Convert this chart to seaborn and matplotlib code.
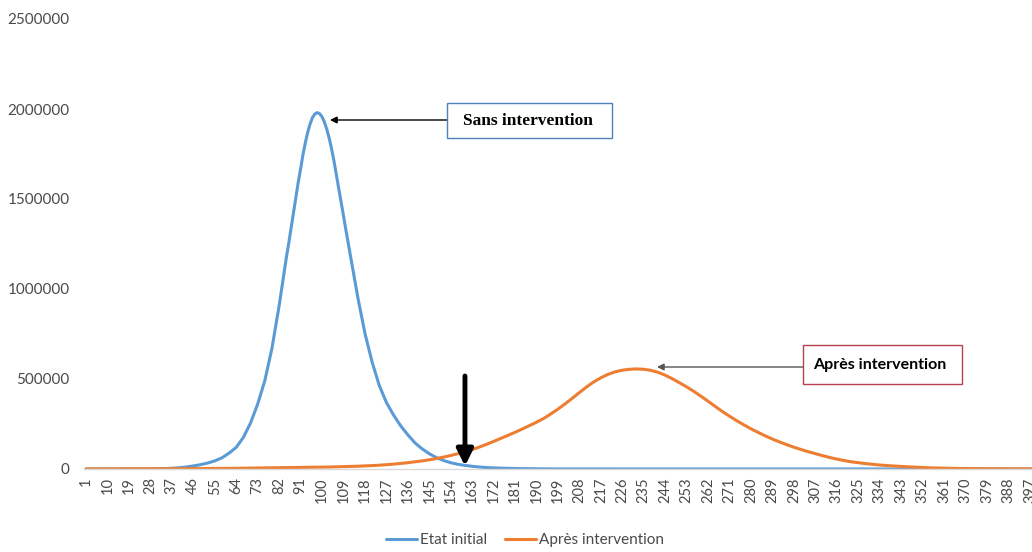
import matplotlib
matplotlib.use("Agg")
import matplotlib.pyplot as plt
from matplotlib.patches import Rectangle
import seaborn as sns
import pandas as pd

# ---- data ----
# Etat initial: every 3 days, every day around the peak
blue_days = list(range(1, 86, 3)) + list(range(86, 111)) + list(range(112, 401, 3))
etat_initial = [
    # days 1 .. 85, step 3
    0, 0, 0, 0, 0, 0, 0, 0, 0, 500,
    1000, 2000, 4000, 7000, 11000, 17000, 24000, 33000, 45000, 62000,
    88000, 120000, 175000, 255000, 360000, 490000, 670000, 905000, 1170000,
    # days 86 .. 110, step 1
    1250000, 1335000, 1420000, 1505000, 1590000, 1665000, 1745000, 1812000, 1870000, 1917000,
    1952000, 1972000, 1980000, 1974000, 1957000, 1928000, 1888000, 1839000, 1780000, 1713000,
    1635000, 1560000, 1485000, 1408000, 1330000,
    # days 112 .. 400, step 3
    1180000, 955000, 755000, 595000, 465000, 370000, 300000, 240000, 190000, 145000,
    112000, 85000, 63000, 47000, 35000, 26000, 20000, 15000, 11000, 8000,
    6000, 4500, 3500, 2500, 2000, 1500, 1000,
    500, 500, 500, 500, 500, 500, 500, 500, 500, 500,
    0, 0, 0, 0, 0, 0, 0, 0, 0, 0,
    0, 0, 0, 0, 0, 0, 0, 0, 0, 0,
    0, 0, 0, 0, 0, 0, 0, 0, 0, 0,
    0, 0, 0, 0, 0, 0, 0, 0, 0, 0,
    0, 0, 0, 0, 0, 0, 0, 0, 0, 0,
    0, 0, 0, 0, 0, 0, 0, 0, 0, 0,
]

# Après intervention: every 3 days
orange_days = list(range(1, 401, 3))
apres_intervention = [
    0, 0, 0, 500, 500, 500, 1000, 1000, 1000, 1500,                   # 1-28
    1500, 1500, 2000, 2000, 2000, 2500, 2500, 3000, 3000, 3500,       # 31-58
    3500, 4000, 4500, 5000, 5500, 6000, 6500, 7000, 7500, 8000,       # 61-88
    8500, 9000, 9500, 10000, 11000, 12000, 13000, 14000, 15500, 17000,  # 91-118
    19000, 21000, 24000, 27000, 31000, 35000, 40000, 45000, 51000, 58000,  # 121-148
    66000, 75000, 85000, 96000, 108000, 122000, 137000, 153000, 170000, 187000,  # 151-178
    204000, 222000, 241000, 260000, 281000, 306000, 333000, 362000, 393000, 425000,  # 181-208
    456000, 484000, 507000, 526000, 540000, 549000, 554000, 556000, 554000, 548000,  # 211-238
    537000, 521000, 501000, 479000, 456000, 431000, 404000, 376000, 347000, 319000,  # 241-268
    293000, 268000, 245000, 223000, 203000, 184000, 166000, 150000, 135000, 121000,  # 271-298
    108000, 96000, 85000, 74000, 64000, 55000, 47000, 40000, 35000, 30000,  # 301-328
    26000, 22000, 19000, 16500, 14000, 12000, 10000, 8000, 6500, 5500,  # 331-358
    4500, 3500, 3000, 2500, 2000, 1500, 1200, 1000, 800, 600,         # 361-388
    500, 400, 300, 200,                                               # 391-400
]

series_names = ["Etat initial", "Après intervention"]
series_colors = ["#5B9BD5", "#ED7D31"]
tick_days = list(range(1, 398, 9))  # 1, 10, ..., 397
y_ticks = [0, 500000, 1000000, 1500000, 2000000, 2500000]

df = pd.concat([
    pd.DataFrame({"jour": blue_days, "valeur": etat_initial, "serie": series_names[0]}),
    pd.DataFrame({"jour": orange_days, "valeur": apres_intervention, "serie": series_names[1]}),
], ignore_index=True)

sns.set_theme(style="white")
plt.rcParams["font.family"] = ["Lato", "DejaVu Sans"]

W, H = 1032, 552
fig = plt.figure(figsize=(W / 100, H / 100), dpi=100)
ax = fig.add_axes([83.6 / W, 83 / H, 948.8 / W, 450 / H])

sns.lineplot(data=df, x="jour", y="valeur", hue="serie", hue_order=series_names,
             palette=series_colors, linewidth=2.2, ax=ax, legend=True)

ax.set_xlim(0, 398)
ax.set_ylim(0, 2500000)
ax.set_xticks(tick_days)
ax.set_xticklabels([str(d) for d in tick_days], rotation=90, fontsize=10.5, color="#4a4a4a")
ax.set_yticks(y_ticks)
ax.set_yticklabels([str(v) for v in y_ticks], fontsize=11, color="#4a4a4a")
ax.tick_params(axis="x", length=0, pad=6)
ax.tick_params(axis="y", length=0, pad=10)
ax.set_xlabel("")
ax.set_ylabel("")
for s in ["top", "right", "left"]:
    ax.spines[s].set_visible(False)
ax.spines["bottom"].set_color("#d9d9d9")
ax.spines["bottom"].set_linewidth(1)

# legend at bottom
handles, labels = ax.get_legend_handles_labels()
ax.get_legend().remove()
fig.legend(handles, labels, loc="center", bbox_to_anchor=(525 / W, 1 - 540 / H),
           ncol=2, frameon=False, fontsize=11, handlelength=2.0, handletextpad=0.2,
           columnspacing=1.2, labelcolor="#4a4a4a")

def px2day(px):
    return (px - 86) / 2.384 + 1

def py2val(py):
    return (469 - py) * 5555.6

# "Sans intervention" box + arrow
fig.add_artist(Rectangle((447 / W, 1 - 138 / H), 165 / W, 35 / H, transform=fig.transFigure,
                         facecolor="white", edgecolor="#4F81BD", linewidth=1.0))
fig.text(528 / W, 1 - 121 / H, "Sans intervention", ha="center", va="center",
         fontsize=12.5, fontweight="bold", family=["Liberation Serif", "DejaVu Serif"], color="black")
ax.annotate("", xy=(px2day(330), py2val(120)), xytext=(px2day(447), py2val(120)),
            arrowprops=dict(arrowstyle="-|>", color="black", lw=1.0, mutation_scale=10,
                            shrinkA=0, shrinkB=0))

# "Après intervention" box + arrow
fig.add_artist(Rectangle((803 / W, 1 - 384 / H), 159 / W, 39 / H, transform=fig.transFigure,
                         facecolor="white", edgecolor="#B5404E", linewidth=1.0))
fig.text(880 / W, 1 - 365 / H, "Après intervention", ha="center", va="center",
         fontsize=11.5, fontweight="bold", color="black")
ax.annotate("", xy=(px2day(657), py2val(367)), xytext=(px2day(803), py2val(367)),
            arrowprops=dict(arrowstyle="-|>", color="#555555", lw=1.0, mutation_scale=10,
                            shrinkA=0, shrinkB=0))

# thick vertical arrow near the crossing
ax.annotate("", xy=(px2day(465), py2val(466)), xytext=(px2day(465), py2val(376)),
            arrowprops=dict(arrowstyle="-|>,head_width=0.35,head_length=0.7", color="black",
                            lw=3.5, mutation_scale=14, shrinkA=0, shrinkB=0))

fig.savefig("out.png", dpi=100, facecolor="white")
